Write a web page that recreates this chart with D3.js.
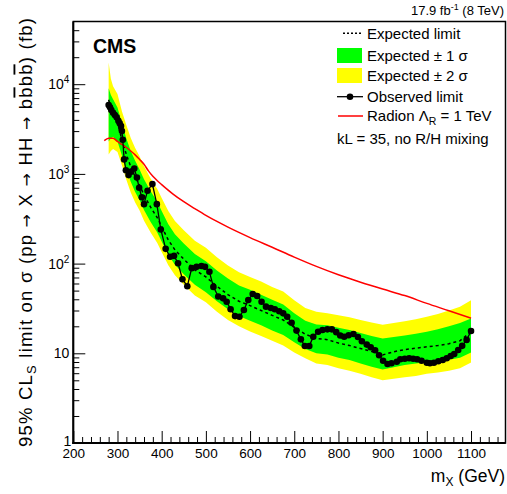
<!DOCTYPE html>
<html>
<head>
<meta charset="utf-8">
<script src="https://cdn.jsdelivr.net/npm/d3@7"></script>
<style>
  html, body { margin: 0; padding: 0; background: #fff; }
  svg { display: block; font-family: "Liberation Sans", Arial, Helvetica, sans-serif; }
</style>
</head>
<body>
<svg id="chart" width="507" height="494"></svg>
<script>
// Expected limit and its 1 / 2 sigma bands (fb), per resonance mass (GeV)
const massExp = [280,285,290,300,310,320,330,340,350,360,375,390,400,415,430,450,475,500,525,550,575,600,625,650,675,700,725,750,775,800,825,850,875,900,925,950,975,1000,1025,1050,1075,1100];
const expected = [6700,5400,4800,3700,2400,1650,1200,930,750,580,425,325,258,183,142,112,85,71,56,45,38,34,30,26.5,23.5,19.5,16.3,14.6,14.2,13,12.2,11.3,10.5,9.6,10.4,11,11.4,11.8,12.2,12.8,13.8,17.4];
const oneSigmaLow = [2300,2500,2600,2300,1600,1120,820,630,510,395,290,222,176,125,97,76,58,48,38,31,26,23,20.5,18,16,13.3,11.2,10,9.7,8.9,8.4,7.7,7.1,6.6,7.0,7.4,7.7,8.0,8.2,8.5,8.9,10.2];
const oneSigmaHigh = [9000,7600,6800,5500,3700,2480,1800,1400,1120,870,640,490,387,275,213,168,128,106,84,68,57,51,45,39.5,35,28,23,21,20.5,19.3,18.2,16.8,15.6,14.6,15.2,15.8,16.5,17.4,18.5,20,21.8,24.5];
const twoSigmaLow = [1650,1800,1900,1750,1250,860,620,480,390,300,222,170,135,96,74,58,44,37,29,23.5,20,17.5,15.6,13.8,12.2,10.2,8.8,7.7,7.4,6.8,6.4,5.9,5.4,5.0,5.2,5.4,5.6,5.9,6.1,6.4,6.8,7.9];
const twoSigmaHigh = [17500,11500,9500,7800,5000,3500,2520,1950,1570,1220,890,680,540,385,298,235,180,150,118,95,80,71,63,55,49,39,32,29,28,26.5,25.2,23.5,22,20.8,21.8,22.8,24,25.5,27.5,30,33,39];

// Observed limit (fb)
const massObs = [280,283,286,290,294,298,302,305,308,310,312,315,319,325,331,338,344,349,355,360,368,379,389,398,409,419,428,437,447,458,468,479,490,498,508,517,528,539,547,556,566,576,586,596,606,616,626,636,647,656,666,675,684,694,705,715,724,734,743,754,764,775,785,795,804,813,823,834,844,853,864,873,883,892,901,911,920,932,940,950,960,969,978,988,1000,1007,1016,1026,1036,1045,1054,1062,1071,1080,1090,1100];
const observed = [5860,5520,5150,4800,4540,4280,3920,3660,3420,3000,2400,1450,1100,970,1060,1150,910,700,550,460,650,770,460,240,146,119,122,101,67,56,89,92,94,92,81,55,43,41,37.6,31,26,25.6,30.4,39.3,45.8,43.5,37.6,33.1,32,31,29.4,27.9,25.6,21.9,17.9,14.3,12.05,12.05,15.3,17.4,18.2,18.5,18.5,17.2,15.8,15.3,15.9,16.4,15.2,13.6,12.5,11.7,10.8,9.5,8.27,7.6,7.74,8.06,8.57,8.71,8.8,8.71,8.57,8.27,7.86,7.74,7.86,8.15,8.42,8.8,9.33,9.82,10.9,12.1,14.1,17.7];

// Radion (Lambda_R = 1 TeV) cross section (fb)
const massRadion = [270,280,290,300,310,320,330,340,350,360,370,380,390,400,425,450,475,500,525,550,600,650,700,750,800,850,900,950,1000,1050,1100];
const radion = [2350,2500,2500,2300,2130,1970,1800,1630,1450,1280,1080,940,840,760,600,490,410,345,295,255,195,152,118,93,75,62,52,44,36,29.8,24.6];

// Axis ticks
const xTicks = [200,300,400,500,600,700,800,900,1000,1100];
const yTicks = [1,10,100,1000,10000];

const svg = d3.select("#chart");
const frameL = 73.3, frameR = 505.5, frameT = 21.5, frameB = 443;

const x = d3.scaleLinear().domain([200, 1178]).range([frameL, frameR]);
const y = d3.scaleLog().domain([1, 5e4]).range([frameB, frameT]);

svg.append("defs").append("clipPath").attr("id", "plotArea")
  .append("rect").attr("x", frameL).attr("y", frameT).attr("width", frameR - frameL).attr("height", frameB - frameT);

const plot = svg.append("g").attr("clip-path", "url(#plotArea)");

const idx = d3.range(massExp.length);
const band = (lo, hi) => d3.area()
  .x(i => x(massExp[i])).y0(i => y(lo[i])).y1(i => y(hi[i]));

plot.append("path").attr("d", band(twoSigmaLow, twoSigmaHigh)(idx)).attr("fill", "#ffff00");
plot.append("path").attr("d", band(oneSigmaLow, oneSigmaHigh)(idx)).attr("fill", "#00ff00");

plot.append("path")
  .attr("d", d3.line().x(i => x(massExp[i])).y(i => y(expected[i]))(idx))
  .attr("fill", "none").attr("stroke", "#000").attr("stroke-width", 1.5)
  .attr("stroke-dasharray", "3,3");

plot.append("path")
  .attr("d", d3.line().x(i => x(massRadion[i])).y(i => y(radion[i])).curve(d3.curveMonotoneX)(d3.range(massRadion.length)))
  .attr("fill", "none").attr("stroke", "#ff0000").attr("stroke-width", 1.5);

const obsIdx = d3.range(massObs.length);
plot.append("path")
  .attr("d", d3.line().x(i => x(massObs[i])).y(i => y(observed[i]))(obsIdx))
  .attr("fill", "none").attr("stroke", "#000").attr("stroke-width", 1.3);
plot.selectAll("circle.obs").data(obsIdx).join("circle")
  .attr("class", "obs")
  .attr("cx", i => x(massObs[i])).attr("cy", i => y(observed[i])).attr("r", 3.3)
  .attr("fill", "#000");

// Axes: ticks point into the frame
const xMinor = d3.range(200, 1178, 20).filter(v => v % 100 !== 0);
const yMinor = [];
for (let d = 1; d <= 10000; d *= 10) for (let k = 2; k <= 9; k++) if (d * k < 5e4) yMinor.push(d * k);

const xAxis = svg.append("g").attr("transform", `translate(0,${frameB})`)
  .call(d3.axisBottom(x).tickValues(xTicks).tickSizeInner(-12).tickSizeOuter(0).tickPadding(5).tickFormat(d3.format("d")));
svg.append("g").attr("transform", `translate(0,${frameB})`)
  .call(d3.axisBottom(x).tickValues(xMinor).tickSizeInner(-6).tickSizeOuter(0).tickFormat(""));

const yAxis = svg.append("g").attr("transform", `translate(${frameL},0)`)
  .call(d3.axisLeft(y).tickValues(yTicks).tickSizeInner(-12).tickSizeOuter(0).tickPadding(4).tickFormat(""));
svg.append("g").attr("transform", `translate(${frameL},0)`)
  .call(d3.axisLeft(y).tickValues(yMinor).tickSizeInner(-6).tickSizeOuter(0).tickFormat(""));

svg.selectAll(".domain").remove();
svg.selectAll(".tick line").attr("stroke", "#000").attr("stroke-width", 1);
xAxis.selectAll("text").attr("font-size", 13.5).attr("fill", "#000")
  .attr("font-family", "Liberation Sans, Arial, sans-serif");

// Power-of-ten labels on the y axis
yAxis.selectAll(".tick text").each(function(v) {
  const t = d3.select(this).text(null)
    .attr("font-size", 14).attr("fill", "#000").attr("font-family", "Liberation Sans, Arial, sans-serif");
  const e = Math.round(Math.log10(v));
  if (e === 0) t.attr("x", -2).attr("dy", "0.15em").append("tspan").text("1");
  else if (e === 1) t.append("tspan").text("10");
  else {
    t.append("tspan").text("10");
    t.append("tspan").attr("font-size", 10).attr("dy", -6).text(e);
  }
});

// Frame
svg.append("rect").attr("x", frameL).attr("y", frameT).attr("width", frameR - frameL).attr("height", frameB - frameT)
  .attr("fill", "none").attr("stroke", "#000").attr("stroke-width", 1.5);
svg.append("line").attr("x1", frameL).attr("x2", frameL).attr("y1", frameT).attr("y2", frameB + 1)
  .attr("stroke", "#000").attr("stroke-width", 2);
svg.append("line").attr("x1", frameL - 1).attr("x2", frameR).attr("y1", frameB).attr("y2", frameB)
  .attr("stroke", "#000").attr("stroke-width", 2);

// Axis titles
const yTitle = svg.append("text")
  .attr("transform", "translate(31.5,232.5) rotate(-90)")
  .attr("text-anchor", "middle").attr("font-size", 18.5).attr("fill", "#000")
  .attr("textLength", 429).attr("lengthAdjust", "spacing");
const arrow = () => yTitle.append("tspan").attr("font-family", "DejaVu Sans").attr("font-size", 16).text("→");
yTitle.append("tspan").text("95% CL");
yTitle.append("tspan").attr("font-size", 13).attr("dy", 4).text("S");
yTitle.append("tspan").attr("dy", -4).text(" limit on σ (pp ");
arrow();
yTitle.append("tspan").text(" X ");
arrow();
yTitle.append("tspan").text(" HH ");
arrow();
yTitle.append("tspan").text(" b");
yTitle.append("tspan").style("text-decoration", "overline").text("b");
yTitle.append("tspan").text("b");
yTitle.append("tspan").style("text-decoration", "overline").text("b");
yTitle.append("tspan").text(") (fb)");

const xTitle = svg.append("text").attr("x", 505).attr("y", 482)
  .attr("text-anchor", "end").attr("font-size", 17.5).attr("fill", "#000");
xTitle.append("tspan").text("m");
xTitle.append("tspan").attr("font-size", 12).attr("dy", 4).text("X");
xTitle.append("tspan").attr("dy", -4).text(" (GeV)");

// Header labels
svg.append("text").attr("x", 93).attr("y", 53).attr("font-size", 19.5).attr("font-weight", "bold")
  .attr("fill", "#000").text("CMS");
const lumi = svg.append("text").attr("x", 504).attr("y", 15).attr("text-anchor", "end")
  .attr("font-size", 13).attr("fill", "#000");
lumi.append("tspan").text("17.9 fb");
lumi.append("tspan").attr("font-size", 9).attr("dy", -5).text("-1");
lumi.append("tspan").attr("dy", 5).text(" (8 TeV)");

// Legend
const lg = svg.append("g");
const textX = 367;
lg.append("line").attr("x1", 343).attr("x2", 363).attr("y1", 33.3).attr("y2", 33.3)
  .attr("stroke", "#000").attr("stroke-width", 1.5).attr("stroke-dasharray", "2,2");
lg.append("rect").attr("x", 337).attr("y", 48).attr("width", 25).attr("height", 15).attr("fill", "#00ff00");
lg.append("rect").attr("x", 337).attr("y", 68).attr("width", 25).attr("height", 15).attr("fill", "#ffff00");
lg.append("line").attr("x1", 337).attr("x2", 363).attr("y1", 96.7).attr("y2", 96.7)
  .attr("stroke", "#000").attr("stroke-width", 1.3);
lg.append("circle").attr("cx", 350).attr("cy", 96.7).attr("r", 3.3).attr("fill", "#000");
lg.append("line").attr("x1", 338).attr("x2", 363).attr("y1", 116).attr("y2", 116)
  .attr("stroke", "#ff0000").attr("stroke-width", 1.5);

const legendText = (yy) => lg.append("text").attr("x", textX).attr("y", yy)
  .attr("font-size", 15).attr("fill", "#000");
legendText(38.5).text("Expected limit");
legendText(60.5).text("Expected ± 1 σ");
legendText(81).text("Expected ± 2 σ");
legendText(102).text("Observed limit");
const rad = legendText(121);
rad.append("tspan").text("Radion Λ");
rad.append("tspan").attr("font-size", 10.5).attr("dy", 4).text("R");
rad.append("tspan").attr("dy", -4).text(" = 1 TeV");
lg.append("text").attr("x", 337).attr("y", 144).attr("font-size", 15).attr("fill", "#000")
  .text("kL = 35, no R/H mixing");
</script>
</body>
</html>
